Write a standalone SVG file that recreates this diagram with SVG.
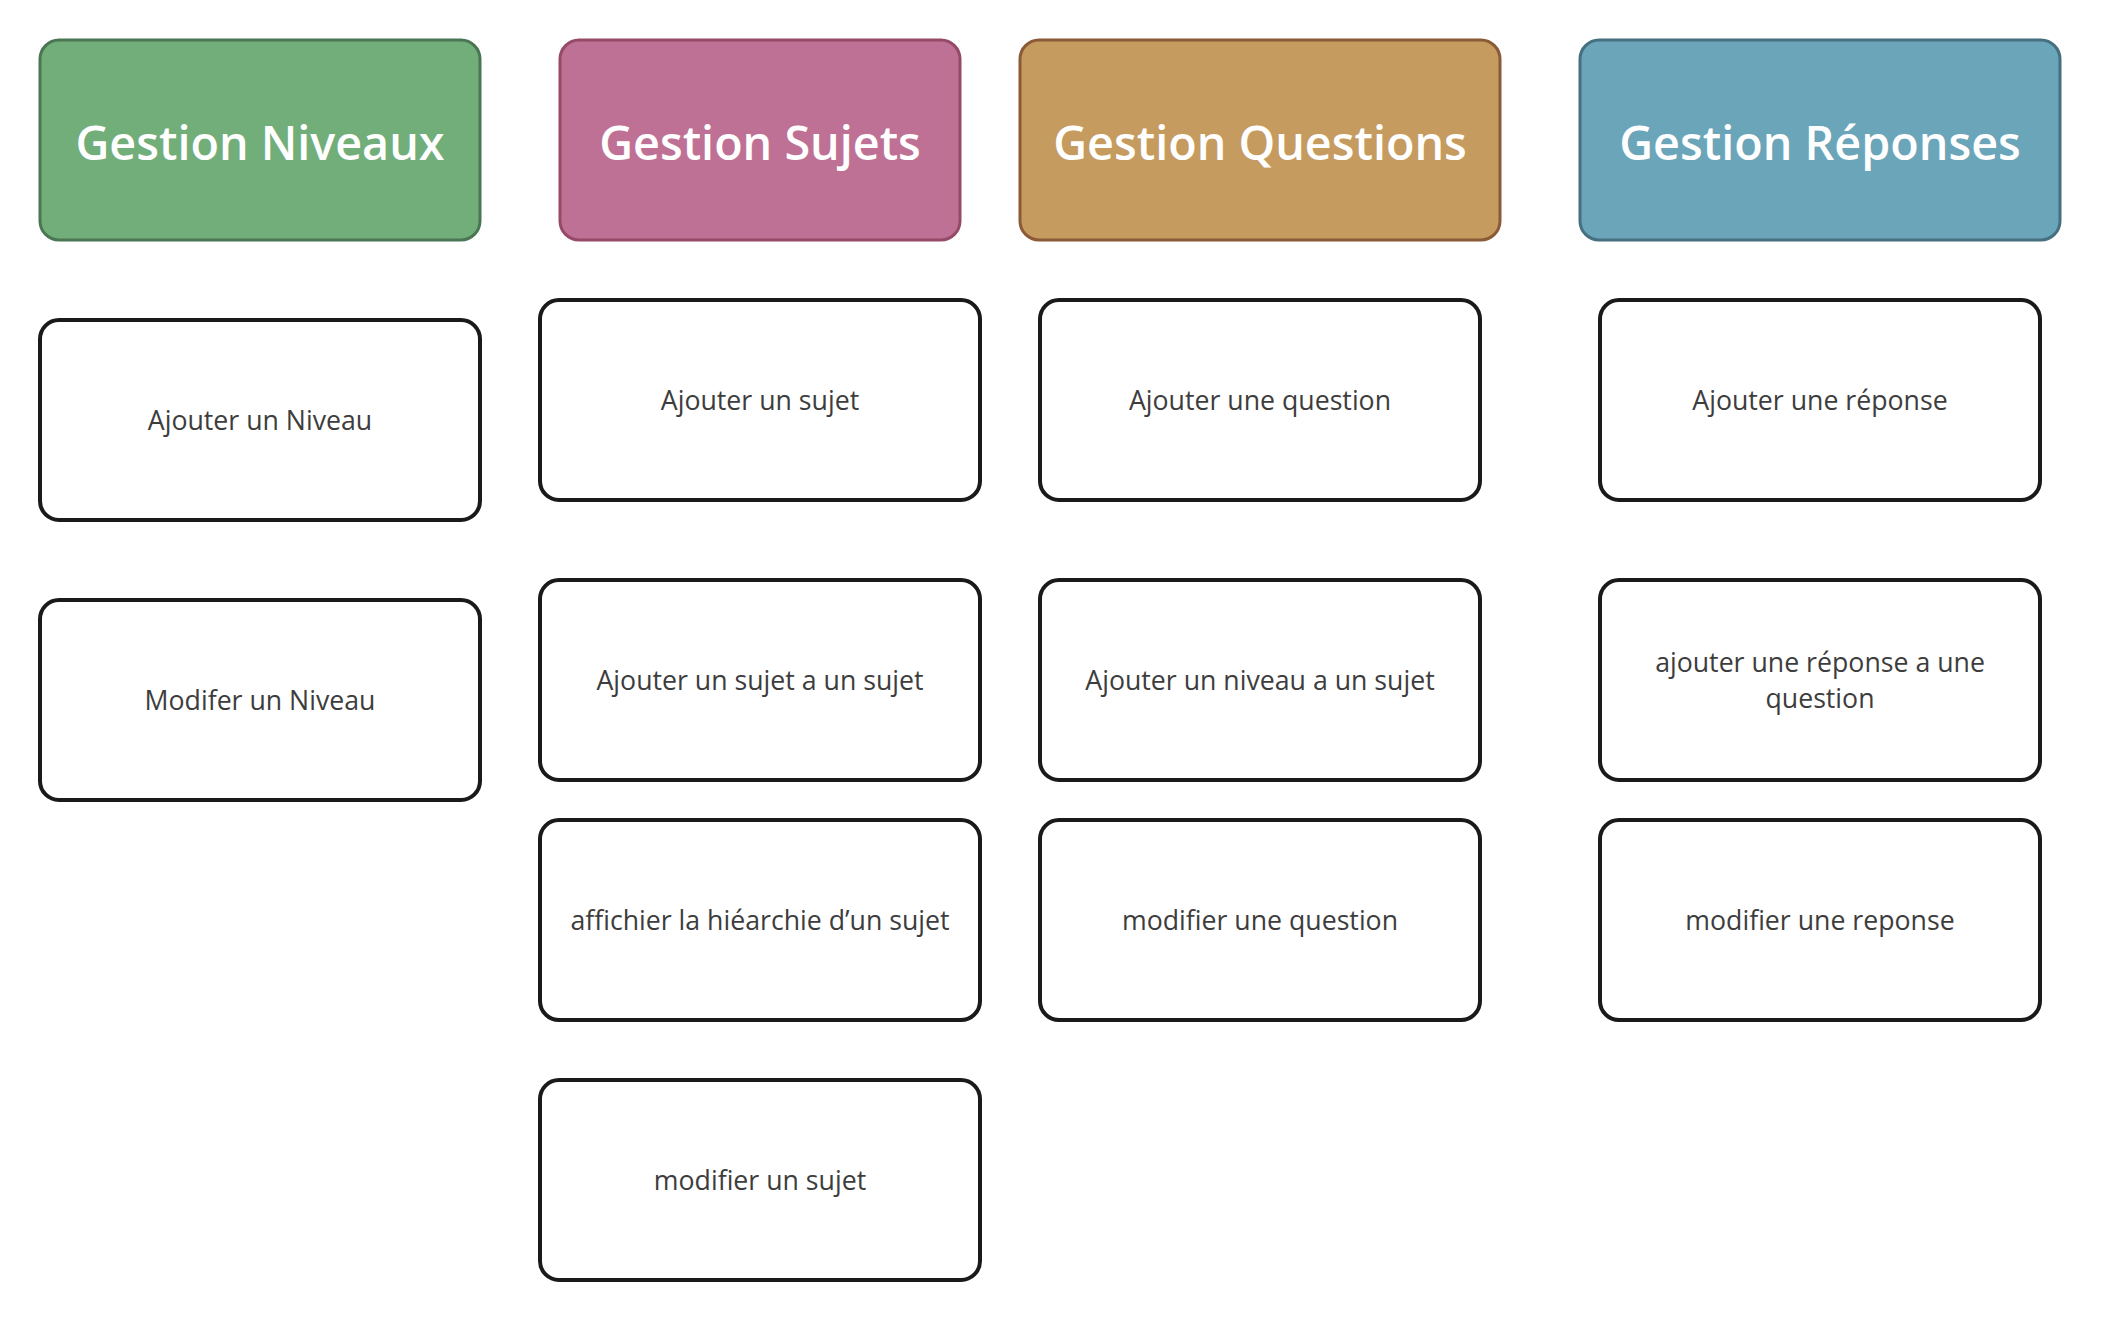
<svg xmlns="http://www.w3.org/2000/svg" width="2101" height="1320" viewBox="0 0 2101 1320">
<style>
.hdr{stroke-width:3}
.hdr-t{font-family:"Open Sans","Noto Sans","Liberation Sans",sans-serif;font-weight:600;font-size:46.7px;fill:#ffffff;text-anchor:middle}
.box{fill:#ffffff;stroke:#1a1a1a;stroke-width:4}
.box-t{font-family:"Open Sans","Noto Sans","Liberation Sans",sans-serif;font-weight:400;font-size:26.7px;fill:#3d3d3d;text-anchor:middle}
</style>
<rect x="0" y="0" width="2101" height="1320" fill="#ffffff"/>
<g id="connectors"></g>

<g id="h-niveaux"><rect class="hdr" x="40" y="40" width="440" height="200" rx="19" fill="#72ae7a" stroke="#4b7653"/><text class="hdr-t" x="260" y="160">Gestion Niveaux</text></g>
<g id="h-sujets"><rect class="hdr" x="560" y="40" width="400" height="200" rx="19" fill="#bf7195" stroke="#954a67"/><text class="hdr-t" x="760" y="160">Gestion Sujets</text></g>
<g id="h-questions"><rect class="hdr" x="1020" y="40" width="480" height="200" rx="19" fill="#c59b5f" stroke="#8b5a37"/><text class="hdr-t" x="1260" y="160">Gestion Questions</text></g>
<g id="h-reponses"><rect class="hdr" x="1580" y="40" width="480" height="200" rx="19" fill="#6ba5b9" stroke="#466f80"/><text class="hdr-t" x="1820" y="160">Gestion Réponses</text></g>

<g id="n-ajouter-niveau"><rect class="box" x="40" y="320" width="440" height="200" rx="19"/><text class="box-t" x="260" y="430">Ajouter un Niveau</text></g>
<g id="n-modifier-niveau"><rect class="box" x="40" y="600" width="440" height="200" rx="19"/><text class="box-t" x="260" y="710">Modifer un Niveau</text></g>

<g id="n-ajouter-sujet"><rect class="box" x="540" y="300" width="440" height="200" rx="19"/><text class="box-t" x="760" y="410">Ajouter un sujet</text></g>
<g id="n-sujet-sujet"><rect class="box" x="540" y="580" width="440" height="200" rx="19"/><text class="box-t" x="760" y="690">Ajouter un sujet a un sujet</text></g>
<g id="n-hierarchie"><rect class="box" x="540" y="820" width="440" height="200" rx="19"/><text class="box-t" x="760" y="930">affichier la hiéarchie d’un sujet</text></g>
<g id="n-modifier-sujet"><rect class="box" x="540" y="1080" width="440" height="200" rx="19"/><text class="box-t" x="760" y="1190">modifier un sujet</text></g>

<g id="n-ajouter-question"><rect class="box" x="1040" y="300" width="440" height="200" rx="19"/><text class="box-t" x="1260" y="410">Ajouter une question</text></g>
<g id="n-niveau-sujet"><rect class="box" x="1040" y="580" width="440" height="200" rx="19"/><text class="box-t" x="1260" y="690">Ajouter un niveau a un sujet</text></g>
<g id="n-modifier-question"><rect class="box" x="1040" y="820" width="440" height="200" rx="19"/><text class="box-t" x="1260" y="930">modifier une question</text></g>

<g id="n-ajouter-reponse"><rect class="box" x="1600" y="300" width="440" height="200" rx="19"/><text class="box-t" x="1820" y="410">Ajouter une réponse</text></g>
<g id="n-reponse-question"><rect class="box" x="1600" y="580" width="440" height="200" rx="19"/><text class="box-t" x="1820" y="672">ajouter une réponse a une</text><text class="box-t" x="1820" y="708">question</text></g>
<g id="n-modifier-reponse"><rect class="box" x="1600" y="820" width="440" height="200" rx="19"/><text class="box-t" x="1820" y="930">modifier une reponse</text></g>
</svg>
